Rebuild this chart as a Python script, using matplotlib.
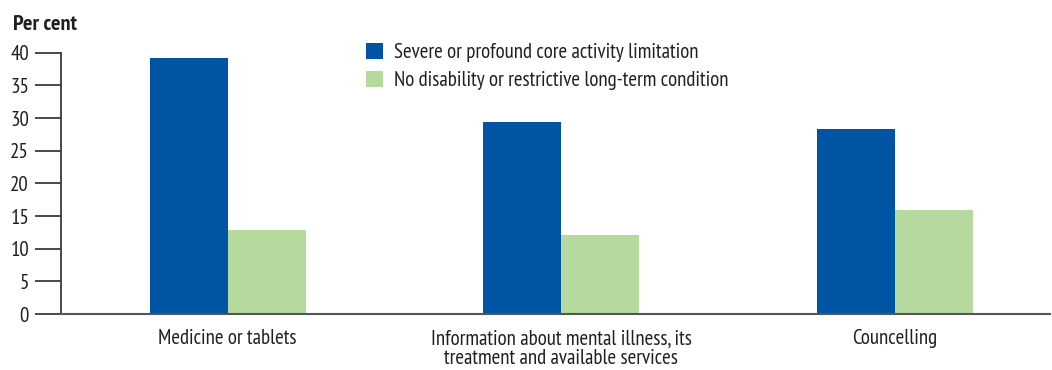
import matplotlib
matplotlib.use("Agg")
import matplotlib.pyplot as plt
import numpy as np

categories = ["Medicine or tablets",
              "Information about mental illness, its\ntreatment and available services",
              "Councelling"]
severe = [39.2, 29.4, 28.3]
no_disability = [12.9, 12.1, 15.9]
series_names = ["Severe or profound core activity limitation",
                "No disability or restrictive long-term condition"]
yticks = [0, 5, 10, 15, 20, 25, 30, 35, 40]

BLUE = "#0054a4"
GREEN = "#b6d99e"
TXT = "#231f20"

plt.rcParams['font.family'] = ['PT Sans Narrow', 'DejaVu Sans']

W, H = 1052, 370
fig = plt.figure(figsize=(W/100, H/100), dpi=100)
x0, x1 = 61, 1050
y0, y1 = 314, 52.7
ax = fig.add_axes([x0/W, 1 - y0/H, (x1-x0)/W, (y0-y1)/H])

x = np.arange(len(categories))
bw = 0.234
ax.bar(x - bw/2, severe, bw, color=BLUE, label=series_names[0])
ax.bar(x + bw/2, no_disability, bw, color=GREEN, label=series_names[1])

ax.set_xlim(-0.5, 2.466)
ax.set_ylim(0, 40)
ax.set_yticks(yticks)
ax.set_yticklabels([str(t) for t in yticks], fontsize=15, color=TXT)
ax.set_xticks(x)
ax.set_xticklabels(categories, fontsize=15, color=TXT, linespacing=1.05)
ax.tick_params(axis='x', length=0, pad=11)
ax.tick_params(axis='y', length=19, width=1.3, color="#3a3a3a", pad=4)
for s in ['top', 'right']:
    ax.spines[s].set_visible(False)
ax.spines['left'].set_color("#3a3a3a")
ax.spines['left'].set_linewidth(1.3)
ax.spines['bottom'].set_color("#555555")
ax.spines['bottom'].set_linewidth(1.5)

fig.text(13/W, 1 - 25/H, "Per cent", fontsize=16, fontweight='bold', color=TXT,
         va='center', ha='left')

leg = ax.legend(loc='upper left', bbox_to_anchor=((360 - x0)/(x1 - x0), 1 + (52.7 - 37)/(y0 - y1)),
                frameon=False, fontsize=15, handlelength=0.8, handleheight=0.8,
                handletextpad=0.55, labelspacing=0.4, borderaxespad=0, borderpad=0.3)
for t in leg.get_texts():
    t.set_color(TXT)

fig.savefig("out.png", dpi=100)
